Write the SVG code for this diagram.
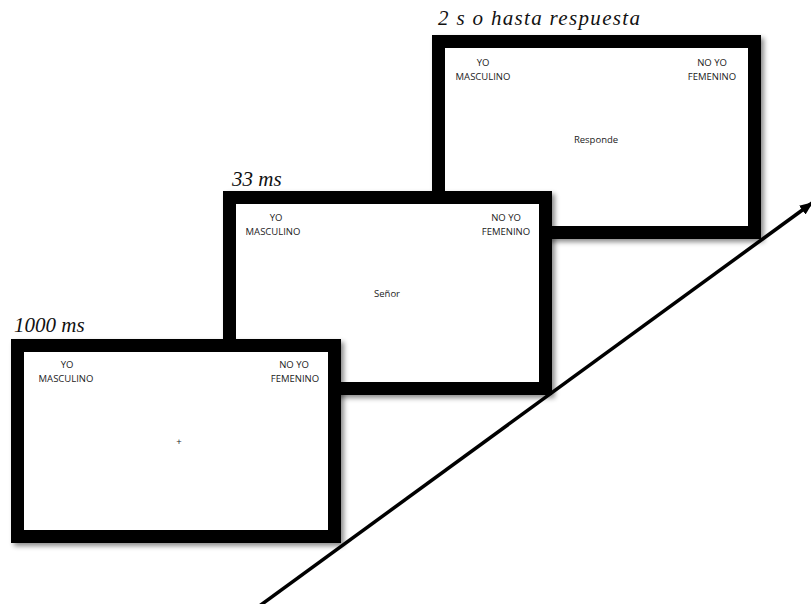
<svg xmlns="http://www.w3.org/2000/svg" width="811" height="604" viewBox="0 0 811 604">
<style>
.frame{fill:#fff;stroke:#000;stroke-width:13}
.lbl{font-family:"Open Sans","Liberation Sans",sans-serif;font-size:9.5px;fill:#222;text-anchor:middle}
.time{font-family:"Liberation Serif","Times New Roman",serif;font-style:italic;font-size:21px;fill:#111}
</style>
<defs>
<filter id="sh" x="-5%" y="-5%" width="115%" height="120%">
<feDropShadow dx="3" dy="3" stdDeviation="2.5" flood-color="#000" flood-opacity="0.45"/>
</filter>
<marker id="ah" markerWidth="14" markerHeight="12" refX="12" refY="5.5" orient="auto" markerUnits="userSpaceOnUse">
<path d="M0,0 L13,5.5 L0,11 Z" fill="#000"/>
</marker>
</defs>
<rect width="811" height="604" fill="#fff"/>
<g id="connectors">
<line x1="258" y1="607" x2="812" y2="203" stroke="#000" stroke-width="3.5" marker-end="url(#ah)"/>
</g>
<g id="frame3">
<text class="time" x="438" y="25" textLength="202" lengthAdjust="spacing">2 s o hasta respuesta</text>
<rect class="frame" x="438.5" y="41.5" width="316" height="191" filter="url(#sh)"/>
<text class="lbl" x="483" y="66">YO</text>
<text class="lbl" x="483" y="80">MASCULINO</text>
<text class="lbl" x="712" y="66">NO YO</text>
<text class="lbl" x="712" y="80">FEMENINO</text>
<text class="lbl" x="596" y="143">Responde</text>
</g>
<g id="frame2">
<text class="time" x="232" y="186">33 ms</text>
<rect class="frame" x="229.5" y="197.5" width="316" height="191" filter="url(#sh)"/>
<text class="lbl" x="276" y="221">YO</text>
<text class="lbl" x="273" y="235">MASCULINO</text>
<text class="lbl" x="506" y="221">NO YO</text>
<text class="lbl" x="506" y="235">FEMENINO</text>
<text class="lbl" x="387" y="297">Señor</text>
</g>
<g id="frame1">
<text class="time" x="14" y="332">1000 ms</text>
<rect class="frame" x="17.5" y="345.5" width="317" height="191" filter="url(#sh)"/>
<text class="lbl" x="67" y="368">YO</text>
<text class="lbl" x="66" y="382">MASCULINO</text>
<text class="lbl" x="294" y="368">NO YO</text>
<text class="lbl" x="295" y="382">FEMENINO</text>
<text class="lbl" x="179" y="445">+</text>
</g>
</svg>
